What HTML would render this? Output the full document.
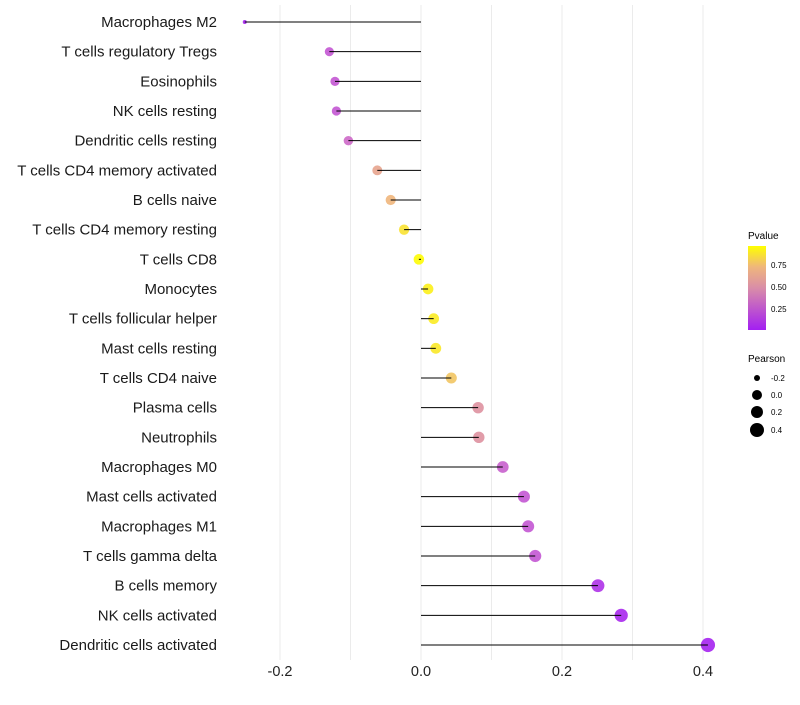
<!DOCTYPE html>
<html><head><meta charset="utf-8"><style>
body{margin:0;background:#fff;font-family:"Liberation Sans",sans-serif}
svg text{font-family:"Liberation Sans",sans-serif}
</style></head><body>
<svg id="chart" width="800" height="700">
<g id="grid"></g>
<g id="dots"></g>
<g id="marks"></g>
<g id="labels"></g>
<g id="xt"></g>
<defs><linearGradient id="pg" x1="0" y1="1" x2="0" y2="0">
<stop offset="0" stop-color="#a31ff2"/><stop offset="0.5" stop-color="#d98da8"/><stop offset="0.75" stop-color="#efb67c"/><stop offset="1" stop-color="#ffff00"/></linearGradient></defs>
<g>
<text x="748" y="239" font-size="10">Pvalue</text>
<rect x="748" y="246" width="18" height="84" fill="url(#pg)"/>
<text x="771" y="268" font-size="8">0.75</text>
<text x="771" y="290" font-size="8">0.50</text>
<text x="771" y="312" font-size="8">0.25</text>
</g>
<g>
<text x="748" y="362" font-size="10">Pearson</text>
<circle cx="757" cy="378" r="3"/><text x="771" y="381" font-size="8">-0.2</text>
<circle cx="757" cy="395" r="5"/><text x="771" y="398" font-size="8">0.0</text>
<circle cx="757" cy="412" r="6"/><text x="771" y="415" font-size="8">0.2</text>
<circle cx="757" cy="430" r="7"/><text x="771" y="433" font-size="8">0.4</text>
</g>
</svg>
<script>
const categories=["Macrophages M2","T cells regulatory  Tregs","Eosinophils","NK cells resting","Dendritic cells resting","T cells CD4 memory activated","B cells naive","T cells CD4 memory resting","T cells CD8","Monocytes","T cells follicular helper","Mast cells resting","T cells CD4 naive","Plasma cells","Neutrophils","Macrophages M0","Mast cells activated","Macrophages M1","T cells gamma delta","B cells memory","NK cells activated","Dendritic cells activated"];
const pearson=[-0.25,-0.13,-0.122,-0.12,-0.103,-0.062,-0.043,-0.024,-0.003,0.01,0.018,0.021,0.043,0.081,0.082,0.116,0.146,0.152,0.162,0.251,0.284,0.407];
const pvalue=[0.02,0.3,0.3,0.3,0.4,0.65,0.75,0.9,0.99,0.95,0.93,0.92,0.8,0.55,0.55,0.35,0.3,0.3,0.3,0.1,0.05,0.02];
const xTicks=[-0.2,0,0.2,0.4];
const xTickLabels=["-0.2","0.0","0.2","0.4"];
const NS="http://www.w3.org/2000/svg";
const x=v=>421+v*705;
const y=i=>22+i*(623/21);
const r=v=>v<-0.2?2:Math.sqrt(28+55*v);
const stops=[[0,[163,31,242]],[0.4,[205,105,200]],[0.55,[222,145,160]],[0.75,[239,182,124]],[1,[255,255,0]]];
function col(p){for(let k=1;k<stops.length;k++){if(p<=stops[k][0]){const a=stops[k-1],b=stops[k],t=(p-a[0])/(b[0]-a[0]);return "rgb("+a[1].map((c,j)=>Math.round(c+(b[1][j]-c)*t)).join(",")+")";}}return "rgb(255,255,0)";}
function mk(t,at,par){const e=document.createElementNS(NS,t);for(const k in at)e.setAttribute(k,at[k]);par.appendChild(e);return e;}
const grid=document.getElementById('grid'),dots=document.getElementById('dots'),marks=document.getElementById('marks'),labels=document.getElementById('labels'),xt=document.getElementById('xt');
for(let v=-0.2;v<=0.45;v+=0.1){const gl=mk('line',{x1:x(v),x2:x(v),y1:5,y2:660,stroke:'#ebebeb','stroke-width':1},grid);

}
xTicks.forEach((v,i)=>{const t=mk('text',{x:x(v),y:676,'font-size':14.5,'text-anchor':'middle',fill:'#222'},xt);t.textContent=xTickLabels[i];

});
categories.forEach((c,i)=>{
const d=mk('circle',{cx:x(pearson[i]),cy:y(i),r:r(pearson[i]),fill:col(pvalue[i]),'fill-opacity':0.9},dots);


const l=mk('line',{x1:x(0),x2:x(pearson[i]),y1:y(i),y2:y(i),stroke:'#000','stroke-width':1},marks);


const t=mk('text',{x:217,y:y(i)+5,'font-size':15,'text-anchor':'end',fill:'#1a1a1a'},labels);t.textContent=c;


});
</script>
</body></html>
